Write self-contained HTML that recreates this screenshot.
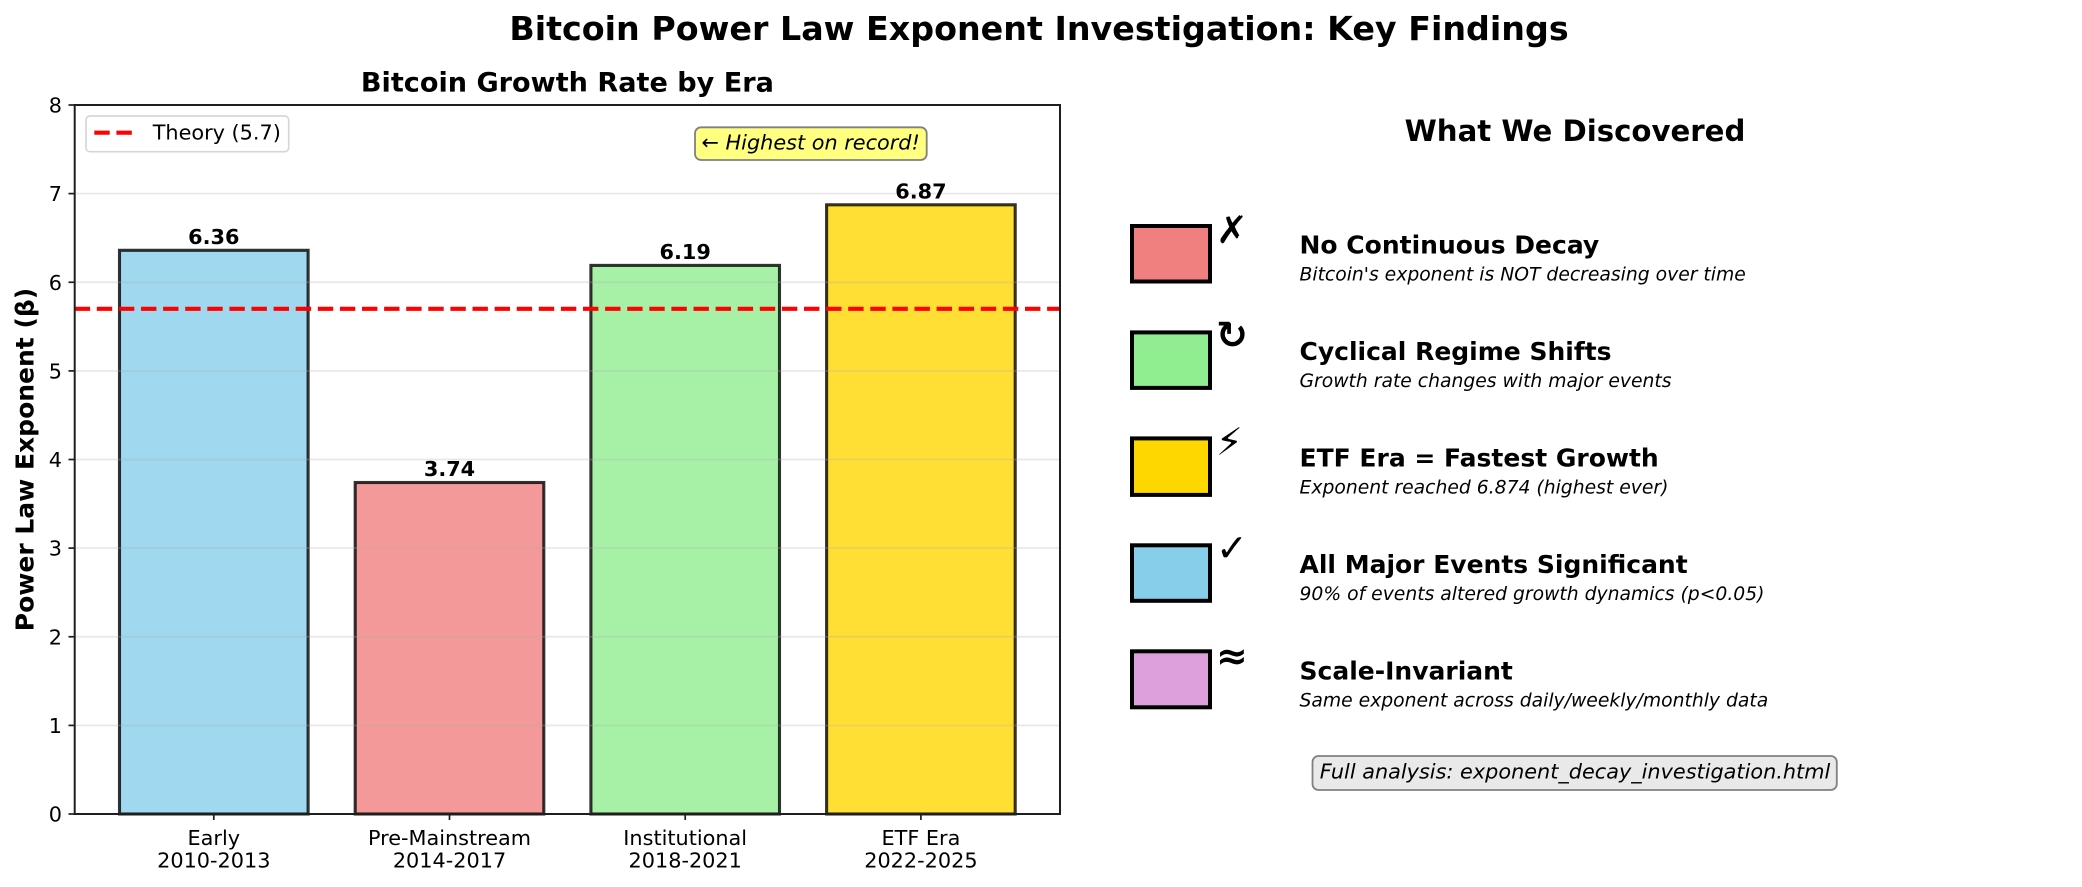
<!DOCTYPE html>
<html>
<head>
<meta charset="utf-8">
<style>
html,body{margin:0;padding:0;background:#fff;}
svg{display:block;}
text{font-family:"DejaVu Sans","Liberation Sans",sans-serif;fill:#000;}
.b{font-weight:bold;}
.i{font-style:italic;}
</style>
</head>
<body>
<svg width="2082" height="887" viewBox="0 0 2082 887" xmlns="http://www.w3.org/2000/svg">
<rect x="0" y="0" width="2082" height="887" fill="#fff"/>

<!-- Main title -->
<text x="1039" y="40" font-size="33.3" class="b" text-anchor="middle">Bitcoin Power Law Exponent Investigation: Key Findings</text>

<!-- Left subplot title -->
<text x="567.4" y="91.7" font-size="27.1" class="b" text-anchor="middle">Bitcoin Growth Rate by Era</text>

<!-- Bars -->
<g stroke="#000" stroke-opacity="0.8" stroke-width="3.1">
<rect x="119.5" y="250.3" width="188.6" height="563.7" fill="#9fd8ef"/>
<rect x="355.2" y="482.5" width="188.6" height="331.5" fill="#f39999"/>
<rect x="590.9" y="265.4" width="188.6" height="548.6" fill="#a6f1a6"/>
<rect x="826.6" y="204.8" width="188.6" height="609.2" fill="#ffdf33"/>
</g>

<!-- Grid lines -->
<g stroke="#b0b0b0" stroke-opacity="0.3" stroke-width="1.67">
<line x1="74.7" x2="1060" y1="725.4" y2="725.4"/>
<line x1="74.7" x2="1060" y1="636.75" y2="636.75"/>
<line x1="74.7" x2="1060" y1="548.1" y2="548.1"/>
<line x1="74.7" x2="1060" y1="459.5" y2="459.5"/>
<line x1="74.7" x2="1060" y1="370.9" y2="370.9"/>
<line x1="74.7" x2="1060" y1="282.25" y2="282.25"/>
<line x1="74.7" x2="1060" y1="193.6" y2="193.6"/>
</g>

<!-- Theory dashed line -->
<line x1="74.7" x2="1060" y1="308.8" y2="308.8" stroke="#ff0000" stroke-width="4.17" stroke-dasharray="15.4 6.7"/>

<!-- Bar value labels -->
<g font-size="20.8" class="b" text-anchor="middle">
<text x="213.8" y="243.8">6.36</text>
<text x="449.5" y="476">3.74</text>
<text x="685.2" y="259">6.19</text>
<text x="920.9" y="198.3">6.87</text>
</g>

<!-- Spines -->
<rect x="74.7" y="105" width="985.3" height="709" fill="none" stroke="#1e1e1e" stroke-width="2"/>

<!-- Y ticks -->
<g stroke="#1e1e1e" stroke-width="1.7">
<line x1="68.5" x2="74.7" y1="814" y2="814"/>
<line x1="68.5" x2="74.7" y1="725.4" y2="725.4"/>
<line x1="68.5" x2="74.7" y1="636.75" y2="636.75"/>
<line x1="68.5" x2="74.7" y1="548.1" y2="548.1"/>
<line x1="68.5" x2="74.7" y1="459.5" y2="459.5"/>
<line x1="68.5" x2="74.7" y1="370.9" y2="370.9"/>
<line x1="68.5" x2="74.7" y1="282.25" y2="282.25"/>
<line x1="68.5" x2="74.7" y1="193.6" y2="193.6"/>
<line x1="68.5" x2="74.7" y1="105" y2="105"/>
<line x1="213.8" x2="213.8" y1="814" y2="820"/>
<line x1="449.5" x2="449.5" y1="814" y2="820"/>
<line x1="685.2" x2="685.2" y1="814" y2="820"/>
<line x1="920.9" x2="920.9" y1="814" y2="820"/>
</g>
<g font-size="20.8" text-anchor="end">
<text x="62" y="821.6">0</text>
<text x="62" y="733">1</text>
<text x="62" y="644.3">2</text>
<text x="62" y="555.7">3</text>
<text x="62" y="467.1">4</text>
<text x="62" y="378.5">5</text>
<text x="62" y="289.8">6</text>
<text x="62" y="201.2">7</text>
<text x="62" y="112.6">8</text>
</g>

<!-- X tick labels -->
<g font-size="20.8" text-anchor="middle">
<text x="213.8" y="845">Early</text>
<text x="213.8" y="867.7">2010-2013</text>
<text x="449.5" y="845">Pre-Mainstream</text>
<text x="449.5" y="867.7">2014-2017</text>
<text x="685.2" y="845">Institutional</text>
<text x="685.2" y="867.7">2018-2021</text>
<text x="920.9" y="845">ETF Era</text>
<text x="920.9" y="867.7">2022-2025</text>
</g>

<!-- Y axis label -->
<text transform="translate(33.3,459.5) rotate(-90)" font-size="25" class="b" text-anchor="middle">Power Law Exponent (β)</text>

<!-- Legend -->
<rect x="86" y="116" width="202.7" height="35.7" rx="4" ry="4" fill="#fff" stroke="#d6d6d6" stroke-width="1.67"/>
<line x1="94.3" x2="135.9" y1="132.7" y2="132.7" stroke="#ff0000" stroke-width="4.17" stroke-dasharray="15.4 6.7"/>
<text x="152.7" y="139.5" font-size="20.8">Theory (5.7)</text>

<!-- Annotation -->
<rect x="695" y="127.3" width="231.7" height="32.7" rx="6" ry="6" fill="#ffff80" stroke="#808080" stroke-width="1.8"/>
<text x="701.5" y="149.3" font-size="20.8" class="i">← Highest on record!</text>

<!-- Right panel -->
<text x="1575" y="141" font-size="29.2" class="b" text-anchor="middle">What We Discovered</text>

<g stroke="#000" stroke-width="4">
<rect x="1132" y="226" width="78" height="55.5" fill="#f08080"/>
<rect x="1132" y="332.4" width="78" height="55.5" fill="#90ee90"/>
<rect x="1132" y="438.4" width="78" height="56.5" fill="#ffd700"/>
<rect x="1132" y="545.3" width="78" height="55.5" fill="#87ceeb"/>
<rect x="1132" y="651.3" width="78" height="56" fill="#dda0dd"/>
</g>

<g font-size="38" class="b">
<text x="1216" y="243">✗</text>
<text x="1216" y="348">↻</text>
<text x="1216" y="455">⚡</text>
<text x="1216" y="561">✓</text>
<text x="1216" y="669">≈</text>
</g>

<g font-size="25" class="b">
<text x="1299.5" y="253.3">No Continuous Decay</text>
<text x="1299.5" y="359.8">Cyclical Regime Shifts</text>
<text x="1299.5" y="466.3">ETF Era = Fastest Growth</text>
<text x="1299.5" y="572.8">All Major Events Significant</text>
<text x="1299.5" y="679.3">Scale-Invariant</text>
</g>
<g font-size="18.75" class="i">
<text x="1299.5" y="280.5">Bitcoin's exponent is NOT decreasing over time</text>
<text x="1299.5" y="387">Growth rate changes with major events</text>
<text x="1299.5" y="493.5">Exponent reached 6.874 (highest ever)</text>
<text x="1299.5" y="600">90% of events altered growth dynamics (p&lt;0.05)</text>
<text x="1299.5" y="706.5">Same exponent across daily/weekly/monthly data</text>
</g>

<!-- Footer box -->
<rect x="1312.5" y="756" width="524.3" height="34" rx="6" ry="6" fill="#e9e9e9" stroke="#808080" stroke-width="1.8"/>
<text x="1575" y="778.3" font-size="20.8" class="i" text-anchor="middle">Full analysis: exponent_decay_investigation.html</text>
</svg>
</body>
</html>
